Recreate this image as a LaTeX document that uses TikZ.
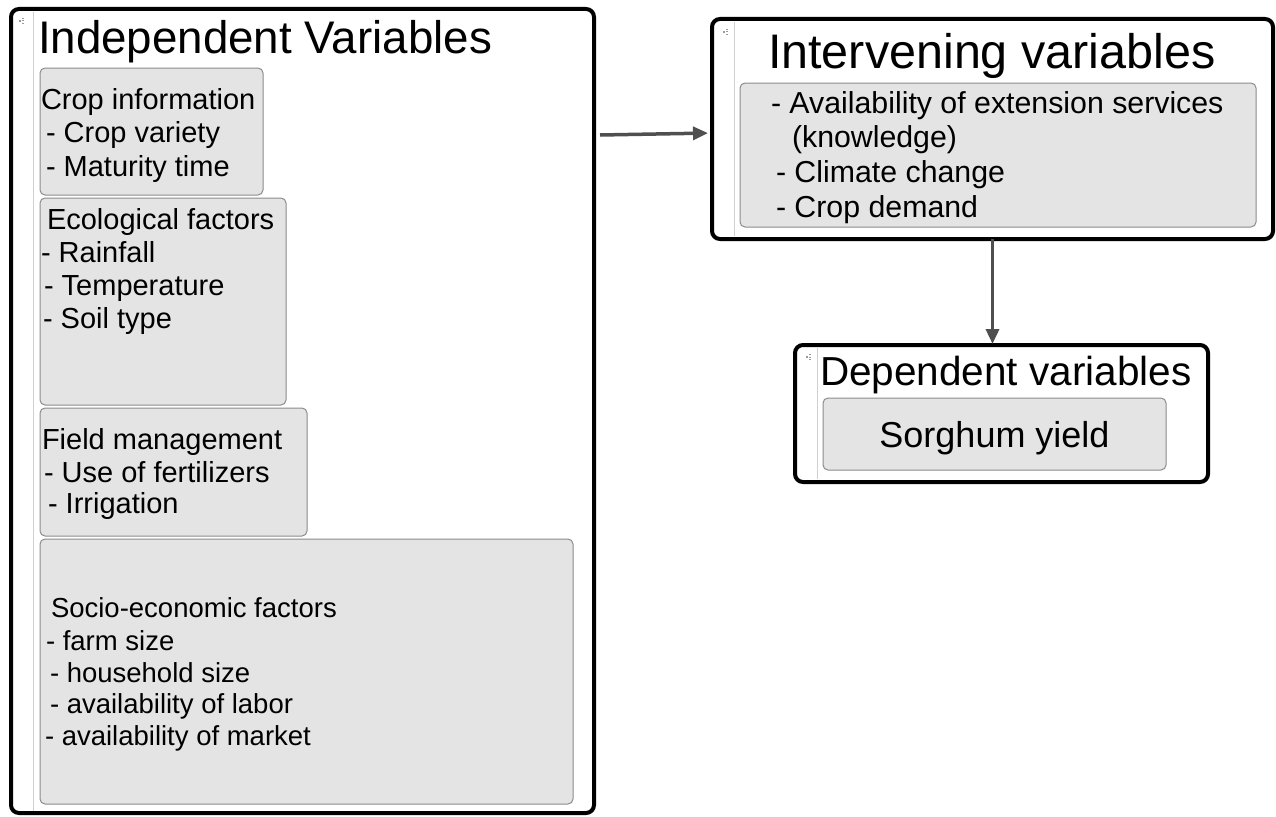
\documentclass[tikz,border=0pt]{standalone}
\usepackage{fontspec}
\setmainfont{Liberation Sans}
\usetikzlibrary{arrows.meta}
\definecolor{boxfill}{HTML}{E4E4E4}
\definecolor{boxline}{HTML}{8C8C8C}
\definecolor{rulegray}{HTML}{D0D0D0}
\definecolor{linkgray}{HTML}{4F4F4F}
\definecolor{handle}{HTML}{9A9A9A}
\tikzset{
  group/.style={draw=black, line width=4pt, rounded corners=8pt, fill=white,
    inner sep=0pt, outer sep=0pt, anchor=north west},
  item/.style={draw=boxline, line width=1pt, fill=boxfill, rounded corners=5pt,
    inner sep=0pt, outer sep=0pt, anchor=north west},
  divider/.style={draw=rulegray, line width=1pt},
  grip/.style={fill=handle, draw=none},
  txt/.style={anchor=base west, inner sep=0pt, outer sep=0pt,
    font=\fontsize{29}{34}\selectfont},
  smalltxt/.style={txt, font=\fontsize{27.5}{33}\selectfont},
  ivtxt/.style={txt, font=\fontsize{30.3}{35}\selectfont},
  title/.style={anchor=base west, inner sep=0pt, outer sep=0pt},
  link/.style={draw=linkgray, line width=3.5pt,
    -{Triangle[length=15pt,width=13pt]}},
}
\begin{document}
\begin{tikzpicture}[x=1pt,y=-1pt]
\useasboundingbox (0,0) rectangle (1276,816);

% ---- containers ----
\node[group, minimum width=583pt, minimum height=804pt] (indep) at (11,9) {};
\node[group, minimum width=561pt, minimum height=220pt] (interv) at (712,19) {};
\node[group, minimum width=413pt, minimum height=137pt] (dep) at (795,345) {};

% thin rules beside the grips
\draw[divider] (33,12) -- (33,811);
\draw[divider] (734,22) -- (734,236);
\draw[divider] (817,348) -- (817,479);

% grips
\foreach \gx/\gy in {19/20, 723/31, 806/356}{
  \fill[grip] (\gx,\gy) rectangle ++(2,2);
  \fill[grip] (\gx+3,\gy-2) rectangle ++(2,1);
  \fill[grip] (\gx+3,\gy+0.5) rectangle ++(2,1);
  \fill[grip] (\gx+3,\gy+3) rectangle ++(2,1);
}

% ---- titles ----
\node[title, font=\fontsize{45.7}{54}\selectfont] (indeptitle) at (38,53) {Independent Variables};
\node[title, font=\fontsize{48.5}{56}\selectfont] (intervtitle) at (768,68) {Intervening variables};
\node[title, font=\fontsize{40.5}{48}\selectfont] (deptitle) at (820,385) {Dependent variables};

% ---- independent variable groups ----
\node[item, minimum width=223pt, minimum height=127pt] (crop) at (40,68) {};
\node[txt] (crop1) at (41,109) {Crop information};
\node[txt] (crop2) at (46,142) {- Crop variety};
\node[txt] (crop3) at (46,176) {- Maturity time};

\node[item, minimum width=246pt, minimum height=207pt] (eco) at (40,198) {};
\node[txt] (eco1) at (47,229) {Ecological factors};
\node[txt] (eco2) at (41,262) {- Rainfall};
\node[txt] (eco3) at (44,295) {- Temperature};
\node[txt] (eco4) at (43,328) {- Soil type};

\node[item, minimum width=267pt, minimum height=128pt] (field) at (40,408) {};
\node[txt] (field1) at (42,449) {Field management};
\node[txt] (field2) at (44,482) {- Use of fertilizers};
\node[txt] (field3) at (48,513) {- Irrigation};

\node[item, minimum width=533pt, minimum height=265pt] (socio) at (40,539) {};
\node[smalltxt] (socio1) at (51,617) {Socio-economic factors};
\node[smalltxt] (socio2) at (46,650) {- farm size};
\node[smalltxt] (socio3) at (50,682) {- household size};
\node[smalltxt] (socio4) at (50,713) {- availability of labor};
\node[smalltxt] (socio5) at (45,745) {- availability of market};

% ---- intervening variables ----
\node[item, minimum width=516pt, minimum height=144pt] (ivlist) at (740,83) {};
\node[ivtxt] (iv1) at (771,113) {- Availability of extension services};
\node[ivtxt] (iv2) at (792,147) {(knowledge)};
\node[ivtxt] (iv3) at (776,182) {- Climate change};
\node[ivtxt] (iv4) at (776,217) {- Crop demand};

% ---- dependent variable ----
\node[item, minimum width=343pt, minimum height=72pt] (yieldbox) at (823,398) {};
\node[anchor=base, inner sep=0pt, font=\fontsize{36}{42}\selectfont] (yield) at (994.5,447) {Sorghum yield};

% ---- connectors ----
\coordinate (linkstart) at (600,135);
\draw[link, shorten >=4pt] (linkstart) -- ([yshift=-4pt]interv.west);
\draw[link, shorten >=1pt] (interv.south) -- (interv.south |- dep.north);
\end{tikzpicture}
\end{document}
